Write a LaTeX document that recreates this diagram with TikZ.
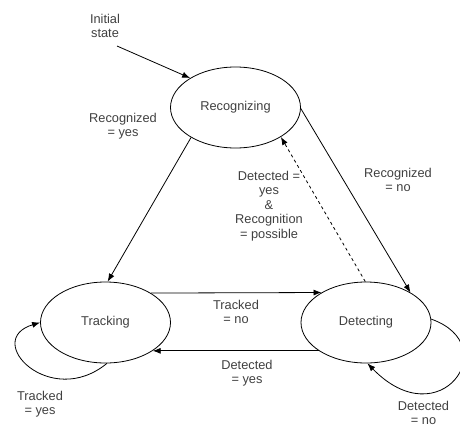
\documentclass[tikz,border=0pt]{standalone}
\usepackage{fontspec}
\setmainfont{Liberation Sans}
\usetikzlibrary{arrows.meta,shapes.geometric}
\begin{document}
\begin{tikzpicture}[x=1pt,y=-1pt,
  state/.style={draw, ellipse, minimum width=130pt, minimum height=81pt, inner sep=0pt, line width=0.8pt},
  lbl/.style={align=center, inner sep=0pt, text=black!75, font=\fontsize{12.8}{14.5}\selectfont},
  conn/.style={draw, line width=0.8pt, -{Latex[length=8pt,width=6pt]}},
  every node/.style={font=\fontsize{12.8}{14.5}\selectfont}
]
\useasboundingbox (0,0) rectangle (460,426);
\node[state, text=black!75] (rec) at (235.5,107.5) {Recognizing};
\node[state, text=black!75] (trk) at (105.5,322.5) {Tracking};
\node[state, text=black!75] (det) at (366,322.5) {Detecting};

\node[lbl] (init) at (105,26) {Initial\\state};
\coordinate (istart) at (117,46);
\draw[conn] (istart) -- (rec.147);

\draw[conn] (rec.214) -- (trk.87);
\node[lbl] (l1) at (123,126) {Recognized\\= yes};

\draw[conn] (rec.-1) -- (det.34);
\node[lbl] (l2) at (398,180) {Recognized\\= no};

\draw[conn, dashed] (det.91) -- (rec.-33);
\node[lbl] (l3) at (269,206) {Detected =\\yes\\\&\\Recognition\\= possible};

\draw[conn] (trk.33.5) -- (det.146.5);
\node[lbl] (l4) at (236,312) {Tracked\\= no};

\draw[conn] (det.211.7) -- (trk.-31.7);
\node[lbl] (l5) at (247,373) {Detected\\= yes};

\draw[conn] (trk.-88) .. controls (50,410) and (-18,340) .. (trk.west);
\node[lbl] (l6) at (40,404) {Tracked\\= yes};

\draw[conn] (det.3) .. controls (505,345) and (440,438) .. (det.-88);
\node[lbl] (l7) at (423.5,413) {Detected\\= no};
\end{tikzpicture}
\end{document}
